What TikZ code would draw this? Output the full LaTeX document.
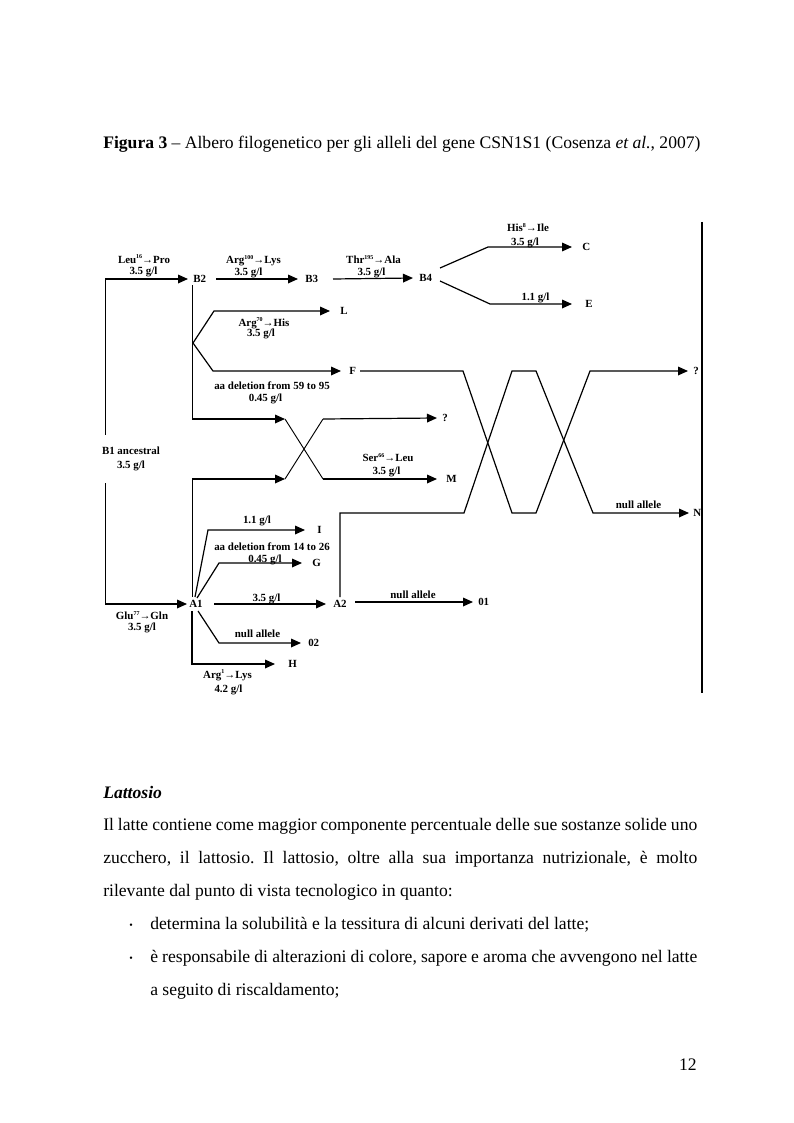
\documentclass[tikz,border=0pt]{standalone}
\usepackage{fontspec}
\setmainfont{Liberation Serif}
\usetikzlibrary{arrows.meta}
\newcommand{\sps}[1]{\raisebox{0.9ex}{\fontsize{4.5}{5}\selectfont #1}}
\frenchspacing
\begin{document}
\begin{tikzpicture}[x=0.75pt,y=-0.75pt,
  lb/.style={font=\fontsize{8.2}{9}\selectfont\bfseries,inner sep=0pt,anchor=base},
  nm/.style={font=\fontsize{8.2}{9}\selectfont\bfseries,inner sep=0pt,anchor=west},
  ln/.style={line width=0.7pt},
  ar/.style={line width=0.9pt,-{Triangle[length=7.5pt,width=6.5pt]}},
  tx/.style={font=\fontsize{13.2}{15}\selectfont,inner sep=0pt,anchor=base west}]
\fill[white] (0,0) rectangle (793,1123);
\useasboundingbox (0,0) rectangle (793,1123);

% title
\node[tx] (title) at (103,148.5) {\textbf{Figura 3} – Albero filogenetico per gli alleli del gene CSN1S1 (Cosenza \textit{et al.}, 2007)};

% allele nodes
\node[nm] (B2) at (193,279) {B2};
\node[nm] (B3) at (305,279) {B3};
\node[nm] (B4) at (419,278) {B4};
\node[nm] (C) at (582,247) {C};
\node[nm] (E) at (585,304) {E};
\node[nm] (L) at (340,311) {L};
\node[nm] (F) at (349,371) {F};
\node[nm] (Q1) at (442,418) {?};
\node[nm] (M) at (446,479) {M};
\node[nm] (Q2) at (693,371) {?};
\node[nm] (N) at (693,513) {N};
\node[nm] (nI) at (317,530) {I};
\node[nm] (G) at (312,563) {G};
\node[nm] (A1) at (189,604) {A1};
\node[nm] (A2) at (333,604) {A2};
\node[nm] (O1) at (478,602) {01};
\node[nm] (O2) at (308,643) {02};
\node[nm] (H) at (288,664) {H};

% coordinates
\coordinate (tl) at (105,279);
\coordinate (bl) at (105,604);
\coordinate (b2v) at (192,285);
\coordinate (jB) at (192,419);
\coordinate (xb) at (285,419);
\coordinate (xb2) at (323,479);
\coordinate (a1u) at (192,597);
\coordinate (jA) at (192,479);
\coordinate (xa) at (285,479);
\coordinate (xa2) at (323,419);
\coordinate (bj) at (193,343);
\coordinate (lk) at (214,311);
\coordinate (fk) at (213,371);
\coordinate (s23) at (216,279);
\coordinate (s34) at (333,279);
\coordinate (b4a) at (440,268);
\coordinate (ck) at (488,247);
\coordinate (b4b) at (440,281);
\coordinate (ek) at (490,304);
\coordinate (f0) at (360,371);
\coordinate (f1) at (463,371);
\coordinate (f2) at (512,513);
\coordinate (f3) at (536,513);
\coordinate (f4) at (590,371);
\coordinate (a2u) at (340,597);
\coordinate (n1) at (340,513);
\coordinate (n2) at (464,513);
\coordinate (n3) at (512,371);
\coordinate (n4) at (536,371);
\coordinate (n5) at (593,513);
\coordinate (ai0) at (195,597);
\coordinate (ai1) at (208,530);
\coordinate (ag0) at (197,598);
\coordinate (ag1) at (219,563);
\coordinate (aa0) at (214,604);
\coordinate (ao0) at (198,611);
\coordinate (ao1) at (219,643);
\coordinate (ah0) at (192,611);
\coordinate (ah1) at (192,664);
\coordinate (a20) at (355,602);
\coordinate (r1) at (702,222);
\coordinate (r2) at (702,693);

% connectors
\draw[line width=0.5pt] (tl) -- (bl);
\draw[ar] (tl) -- ([xshift=-3.75pt]B2.west);
\draw[ar] (bl) -- ([xshift=-1.5pt]A1.west);
\draw[ar] (s23) -- ([xshift=-5.25pt]B3.west);
\draw[ar] (s34) -- ([xshift=-4.5pt]B4.west);
\draw[ar] (b4a) -- (ck) -- ([xshift=-7.5pt]C.west);
\draw[ar] (b4b) -- (ek) -- ([xshift=-9.75pt]E.west);
\draw[ln] (b2v) -- (jB);
\draw[ar] (jB) -- (xb);
\draw[ln] (xb) -- (xb2);
\draw[ar] (xb2) -- ([xshift=-6.75pt]M.west);
\draw[ln] (a1u) -- (jA);
\draw[ar] (jA) -- (xa);
\draw[ln] (xa) -- (xa2);
\draw[ar] (xa2) -- ([xshift=-3.75pt]Q1.west);
\draw[ar] (bj) -- (lk) -- ([xshift=-7.5pt]L.west);
\draw[ar] (bj) -- (fk) -- ([xshift=-6pt]F.west);
\draw[ar] (f0) -- (f1) -- (f2) -- (f3) -- (f4) -- ([xshift=-3.75pt]Q2.west);
\draw[ar] (a2u) -- (n1) -- (n2) -- (n3) -- (n4) -- (n5) -- ([xshift=-3pt]N.west);
\draw[ar] (ai0) -- (ai1) -- ([xshift=-9pt]nI.west);
\draw[ar] (ag0) -- (ag1) -- ([xshift=-7.5pt]G.west);
\draw[ar] (aa0) -- ([xshift=-5.25pt]A2.west);
\draw[ar] (ao0) -- (ao1) -- ([xshift=-5.25pt]O2.west);
\draw[ar] (ah0) -- (ah1) -- ([xshift=-9.75pt]H.west);
\draw[ar] (a20) -- ([xshift=-3.75pt]O1.west);
\draw[line width=0.9pt] (r1) -- (r2);

% labels
\node[lb] (l1) at (144,263.5) {Leu\sps{16}→Pro};
\node[lb] (l2) at (143.5,274) {3.5 g/l};
\node[lb] (l3) at (253.5,263.6) {Arg\sps{100}→Lys};
\node[lb] (l4) at (248.5,275) {3.5 g/l};
\node[lb] (l5) at (373.5,263.6) {Thr\sps{195}→Ala};
\node[lb] (l6) at (371.5,275) {3.5 g/l};
\node[lb] (l7) at (528,231.6) {His\sps{8}→Ile};
\node[lb] (l8) at (525,245) {3.5 g/l};
\node[lb] (l9) at (535.5,300) {1.1 g/l};
\node[lb] (l10) at (264,326) {Arg\sps{70}→His};
\node[lb] (l11) at (261,336.5) {3.5 g/l};
\node[lb] (l12) at (272,389.3) {aa deletion from 59 to 95};
\node[lb] (l13) at (265.5,401) {0.45 g/l};
\node[font=\fontsize{8.2}{10.5}\selectfont\bfseries,align=center,fill=white,inner xsep=1pt,inner ysep=9pt] (l14) at (131,459) {B1 ancestral\\3.5 g/l};
\node[lb] (l16) at (388,461.6) {Ser\sps{66}→Leu};
\node[lb] (l17) at (386.5,474.6) {3.5 g/l};
\node[lb] (l18) at (638.5,508) {null allele};
\node[lb] (l19) at (257,523.6) {1.1 g/l};
\node[lb] (l20) at (272,550.3) {aa deletion from 14 to 26};
\node[lb] (l21) at (265,562) {0.45 g/l};
\node[lb] (l22) at (266.5,601) {3.5 g/l};
\node[lb] (l23) at (413,598.6) {null allele};
\node[lb] (l24) at (142,619.6) {Glu\sps{77}→Gln};
\node[lb] (l25) at (142,630.5) {3.5 g/l};
\node[lb] (l26) at (257.5,637.6) {null allele};
\node[lb] (l27) at (227.5,678) {Arg\sps{1}→Lys};
\node[lb] (l28) at (228.5,692.6) {4.2 g/l};

% body text
\node[tx] (h1) at (103,798) {\textbf{\textit{Lattosio}}};
\node[tx] (p1) at (103,830.7) {\makebox[445.5pt][s]{Il latte contiene come maggior componente percentuale delle sue sostanze solide uno}};
\node[tx] (p2) at (103,863) {\makebox[445.5pt][s]{zucchero, il lattosio. Il lattosio, oltre alla sua importanza nutrizionale, è molto}};
\node[tx] (p3) at (103,896.7) {rilevante dal punto di vista tecnologico in quanto:};
\node[tx,font=\fontsize{7.5}{8}\selectfont] (bu1) at (129,928) {•};
\node[tx] (p4) at (150,929) {determina la solubilità e la tessitura di alcuni derivati del latte;};
\node[tx,font=\fontsize{7.5}{8}\selectfont] (bu2) at (129,961.7) {•};
\node[tx] (p5) at (150,962.7) {\makebox[410.25pt][s]{è responsabile di alterazioni di colore, sapore e aroma che avvengono nel latte}};
\node[tx] (p6) at (150,995) {a seguito di riscaldamento;};
\node[font=\fontsize{13.2}{15}\selectfont,inner sep=0pt,anchor=base east] (pg) at (697,1070) {12};
\end{tikzpicture}
\end{document}
